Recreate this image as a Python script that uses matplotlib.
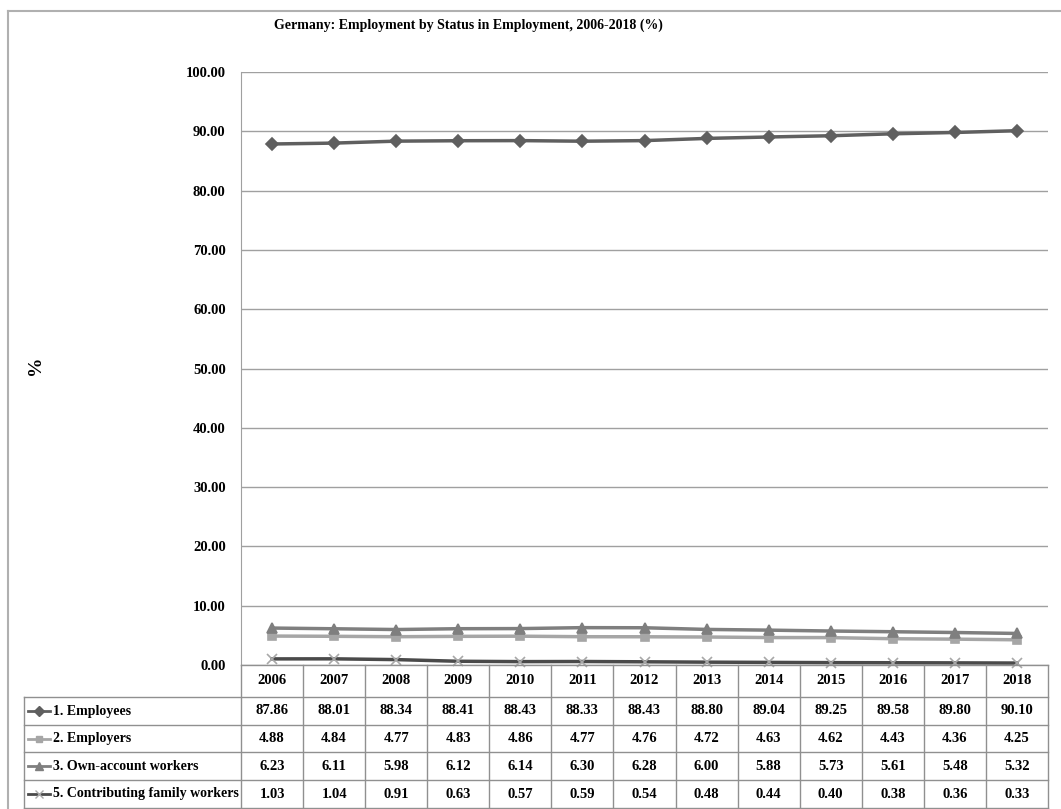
import matplotlib
matplotlib.use("Agg")
from matplotlib import pyplot as plt
from matplotlib.lines import Line2D

years = ["2006", "2007", "2008", "2009", "2010", "2011", "2012",
         "2013", "2014", "2015", "2016", "2017", "2018"]
employees = [87.86, 88.01, 88.34, 88.41, 88.43, 88.33, 88.43,
             88.80, 89.04, 89.25, 89.58, 89.80, 90.10]
employers = [4.88, 4.84, 4.77, 4.83, 4.86, 4.77, 4.76,
             4.72, 4.63, 4.62, 4.43, 4.36, 4.25]
own_account = [6.23, 6.11, 5.98, 6.12, 6.14, 6.30, 6.28,
               6.00, 5.88, 5.73, 5.61, 5.48, 5.32]
family_workers = [1.03, 1.04, 0.91, 0.63, 0.57, 0.59, 0.54,
                  0.48, 0.44, 0.40, 0.38, 0.36, 0.33]

series_names = ["1. Employees", "2. Employers", "3. Own-account workers",
                "5. Contributing family workers"]
series_values = [employees, employers, own_account, family_workers]
# line colour, marker, marker colour, marker size
styles = [("#5f5f5f", "D", "#5f5f5f", 6),
          ("#a6a6a6", "s", "#a6a6a6", 6),
          ("#7f7f7f", "^", "#7f7f7f", 7),
          ("#4a4a4a", "x", "#a8a8a8", 7)]

plt.rcParams['font.family'] = ['Liberation Serif', 'DejaVu Serif']
plt.rcParams['font.weight'] = 'bold'

W, H = 1061, 809
fig = plt.figure(figsize=(W / 100, H / 100), dpi=100)

# outer chart border
fig.add_artist(Line2D([8 / W, 8 / W], [0, 1 - 11 / H], color="#b0b0b0", lw=1.5))
fig.add_artist(Line2D([8 / W, 1], [1 - 11 / H, 1 - 11 / H], color="#b0b0b0", lw=1.5))

left, right = 241, 1048
y0, y100 = 665, 72
ax = fig.add_axes([left / W, 1 - y0 / H, (right - left) / W, (y0 - y100) / H])

x = list(range(len(years)))
for vals, (lc, mk, mc, ms) in zip(series_values, styles):
    ax.plot(x, vals, color=lc, lw=2.5, marker=mk, markersize=ms,
            markerfacecolor=mc, markeredgecolor=mc, markeredgewidth=1.2,
            clip_on=False, zorder=3)

ax.set_xlim(-0.5, len(years) - 0.5)
ax.set_ylim(0, 100)
ax.set_yticks(range(0, 101, 10))
ax.set_yticklabels([f"{v:.2f}" for v in range(0, 101, 10)], fontsize=10.5)
ax.set_xticks([])
ax.tick_params(axis='y', length=0, pad=11)
ax.yaxis.grid(True, color="#a0a0a0", lw=1)
ax.set_axisbelow(True)
for s in ["top", "right", "bottom"]:
    ax.spines[s].set_visible(False)
ax.spines["left"].set_color("#a0a0a0")

fig.text(35 / W, 1 - 365 / H, "%", rotation=90, fontsize=14,
         ha="center", va="center")
fig.text(468 / W, 1 - 25 / H,
         "Germany: Employment by Status in Employment, 2006-2018 (%)",
         fontsize=10, ha="center", va="center")

# data table under the chart
tab = fig.add_axes([0, 0, 1, 1], facecolor="none")
tab.set_xlim(0, W)
tab.set_ylim(H, 0)
tab.axis("off")
col_w = (right - left) / len(years)
row_tops = [665, 697, 725, 752, 780, 808]
tcol = "#909090"

# header row
tab.plot([left, right], [row_tops[0], row_tops[0]], color=tcol, lw=1)
for i in range(len(years) + 1):
    xx = left + i * col_w
    tab.plot([xx, xx], [row_tops[0], row_tops[-1]], color=tcol, lw=1)
for i, yr in enumerate(years):
    tab.text(left + (i + 0.5) * col_w, (row_tops[0] + row_tops[1]) / 2, yr,
             fontsize=10.5, ha="center", va="center")

tab.plot([24, 24], [row_tops[1], row_tops[-1]], color=tcol, lw=1)
for r in range(1, len(row_tops)):
    tab.plot([24, right], [row_tops[r], row_tops[r]], color=tcol, lw=1)

for r, (name, vals, (lc, mk, mc, ms)) in enumerate(zip(series_names, series_values, styles)):
    yc = (row_tops[r + 1] + row_tops[r + 2]) / 2
    tab.plot([28, 50], [yc, yc], color=lc, lw=2)
    tab.plot([39], [yc], marker=mk, markersize=ms - 1, color=mc,
             markeredgecolor=mc)
    tab.text(53, yc, name, fontsize=10, ha="left", va="center")
    for i, v in enumerate(vals):
        tab.text(left + (i + 0.5) * col_w, yc, f"{v:.2f}",
                 fontsize=10.5, ha="center", va="center")

fig.savefig("out.png", dpi=100)
